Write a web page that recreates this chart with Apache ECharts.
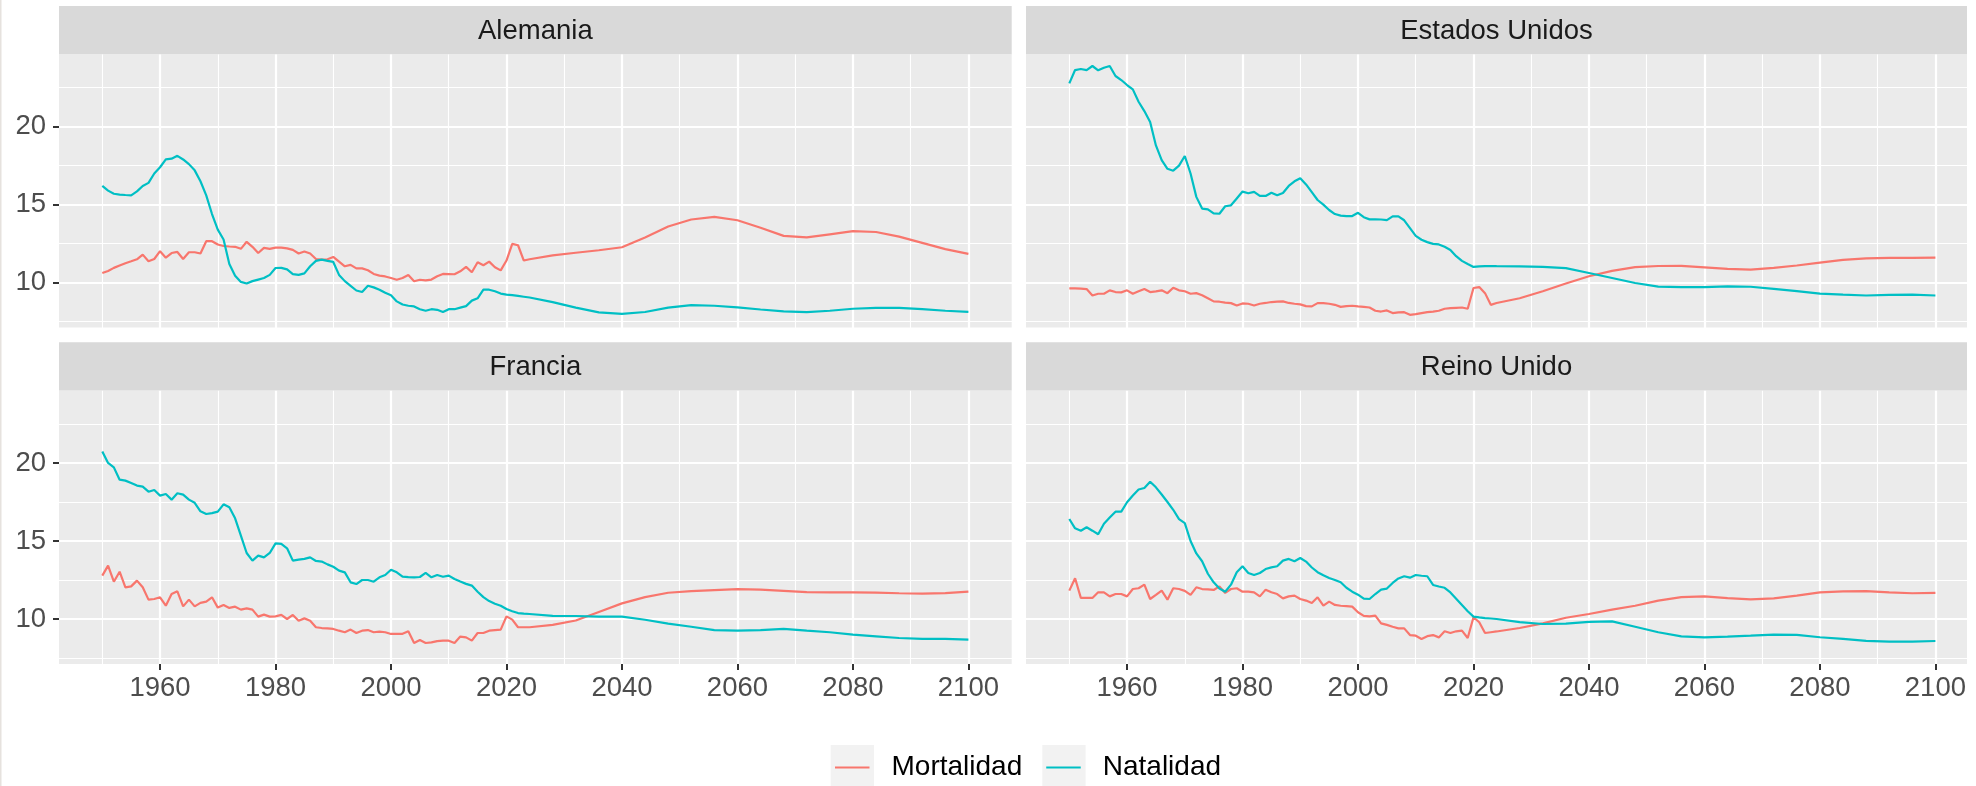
<!DOCTYPE html>
<html>
<head>
<meta charset="utf-8">
<title>Natalidad y mortalidad</title>
<script src="https://cdn.jsdelivr.net/npm/echarts@6/dist/echarts.min.js"></script>
<style>
  html, body { margin: 0; padding: 0; background: #ffffff; }
  #chart { width: 1976px; height: 786px; }
</style>
</head>
<body>
<div id="chart"></div>
<script>
// años: anual hasta 2024, luego cada 4 años (proyección)
const years = [
  1950, 1951, 1952, 1953, 1954, 1955, 1956, 1957, 1958, 1959,
  1960, 1961, 1962, 1963, 1964, 1965, 1966, 1967, 1968, 1969,
  1970, 1971, 1972, 1973, 1974, 1975, 1976, 1977, 1978, 1979,
  1980, 1981, 1982, 1983, 1984, 1985, 1986, 1987, 1988, 1989,
  1990, 1991, 1992, 1993, 1994, 1995, 1996, 1997, 1998, 1999,
  2000, 2001, 2002, 2003, 2004, 2005, 2006, 2007, 2008, 2009,
  2010, 2011, 2012, 2013, 2014, 2015, 2016, 2017, 2018, 2019,
  2020, 2021, 2022, 2023, 2024,
  2028, 2032, 2036, 2040, 2044, 2048, 2052, 2056, 2060, 2064,
  2068, 2072, 2076, 2080, 2084, 2088, 2092, 2096, 2100
];

const paises = ['Alemania', 'Estados Unidos', 'Francia', 'Reino Unido'];
const xTicks = [1960, 1980, 2000, 2020, 2040, 2060, 2080, 2100];
const yTicks = [10, 15, 20];

const mortAlemania = [
  10.62, 10.75, 10.95, 11.1, 11.25, 11.37, 11.5, 11.8, 11.37, 11.52,
  12.02, 11.6, 11.9, 11.97, 11.52, 11.95, 11.95, 11.87, 12.66, 12.66,
  12.45, 12.35, 12.32, 12.3, 12.17, 12.62, 12.3, 11.9, 12.23, 12.17,
  12.25, 12.25, 12.2, 12.1, 11.87, 12.0, 11.87, 11.52, 11.48, 11.5,
  11.65, 11.35, 11.05, 11.14, 10.92, 10.92, 10.8, 10.56, 10.45, 10.4,
  10.3, 10.19, 10.3, 10.49, 10.09, 10.19, 10.15, 10.2, 10.41, 10.56,
  10.55, 10.54, 10.73, 11.01, 10.67, 11.31, 11.12, 11.35, 10.99, 10.79,
  11.42, 12.49, 12.4, 11.42, 11.5,
  11.75, 11.92, 12.08, 12.27, 12.9, 13.6, 14.05, 14.22, 14.0, 13.52,
  13.0, 12.9, 13.1, 13.3, 13.25, 12.95, 12.55, 12.15, 11.85
];
const natAlemania = [
  16.2, 15.9, 15.7, 15.65, 15.62, 15.6, 15.85, 16.2, 16.4, 17.0,
  17.4, 17.9, 17.95, 18.13, 17.9, 17.6, 17.2, 16.5, 15.6, 14.4,
  13.4, 12.77, 11.2, 10.45, 10.05, 9.95, 10.1, 10.2, 10.3, 10.5,
  10.94, 10.95, 10.85, 10.55, 10.5, 10.6, 11.05, 11.4, 11.48, 11.4,
  11.33, 10.5, 10.1, 9.8, 9.5, 9.4, 9.8, 9.7, 9.55, 9.35,
  9.2, 8.8, 8.6, 8.52, 8.48, 8.3, 8.2, 8.3, 8.26, 8.12,
  8.3, 8.3, 8.4, 8.5, 8.85, 9.0, 9.55, 9.55, 9.45, 9.3,
  9.23, 9.2, 9.15, 9.1, 9.05,
  8.75, 8.4, 8.1, 8.0, 8.12, 8.4, 8.56, 8.52, 8.42, 8.28,
  8.16, 8.11, 8.2, 8.33, 8.38, 8.38, 8.3, 8.2, 8.13
];
const mortEEUU = [
  9.64, 9.64, 9.62, 9.59, 9.18, 9.29, 9.29, 9.51, 9.4, 9.38,
  9.51, 9.29, 9.45, 9.59, 9.4, 9.44, 9.51, 9.33, 9.68, 9.51,
  9.45, 9.29, 9.33, 9.2, 9.0, 8.8, 8.78, 8.72, 8.69, 8.54,
  8.67, 8.65, 8.54, 8.65, 8.7, 8.76, 8.78, 8.8, 8.7, 8.65,
  8.61, 8.5, 8.48, 8.69, 8.69, 8.65, 8.58, 8.45, 8.5, 8.52,
  8.48, 8.45, 8.41, 8.2, 8.15, 8.22, 8.05, 8.1, 8.11, 7.94,
  7.98, 8.05, 8.11, 8.15, 8.2, 8.33, 8.37, 8.39, 8.41, 8.33,
  9.66, 9.72, 9.33, 8.58, 8.7,
  9.0, 9.45, 9.95, 10.41, 10.76, 11.0, 11.07, 11.08, 10.98, 10.88,
  10.84, 10.95, 11.1, 11.28, 11.46, 11.56, 11.59, 11.59, 11.61
];
const natEEUU = [
  22.78, 23.63, 23.7, 23.63, 23.89, 23.61, 23.78, 23.89, 23.25, 22.99,
  22.67, 22.39, 21.6, 21.0, 20.3, 18.8, 17.86, 17.3, 17.18, 17.5,
  18.12, 17.0, 15.5, 14.75, 14.7, 14.44, 14.42, 14.9, 14.96, 15.4,
  15.84, 15.73, 15.82, 15.56, 15.56, 15.77, 15.6, 15.75, 16.2, 16.5,
  16.7, 16.3, 15.8, 15.3, 15.0, 14.66, 14.4, 14.3, 14.27, 14.27,
  14.48, 14.2, 14.06, 14.06, 14.05, 14.01, 14.25, 14.25, 14.0, 13.5,
  13.0, 12.75, 12.6, 12.49, 12.45, 12.3, 12.1, 11.7, 11.4, 11.2,
  11.01, 11.05, 11.06, 11.07, 11.06,
  11.05, 11.01, 10.93, 10.62, 10.3, 9.98, 9.75, 9.72, 9.72, 9.76,
  9.74, 9.6, 9.46, 9.3, 9.23, 9.18, 9.22, 9.23, 9.18
];
const mortFrancia = [
  12.78, 13.42, 12.39, 13.03, 12.03, 12.09, 12.46, 12.03, 11.24, 11.28,
  11.39, 10.85, 11.6, 11.77, 10.81, 11.24, 10.81, 11.03, 11.11, 11.39,
  10.73, 10.9, 10.71, 10.79, 10.6, 10.68, 10.6, 10.15, 10.28, 10.15,
  10.17, 10.26, 10.0, 10.26, 9.89, 10.04, 9.89, 9.47, 9.42, 9.4,
  9.36, 9.25, 9.15, 9.32, 9.1, 9.25, 9.29, 9.15, 9.19, 9.15,
  9.04, 9.04, 9.05, 9.21, 8.46, 8.65, 8.46, 8.5, 8.58, 8.61,
  8.61, 8.46, 8.87, 8.82, 8.61, 9.1, 9.1, 9.25, 9.29, 9.32,
  10.17, 9.96, 9.47, 9.47, 9.47,
  9.62, 9.9, 10.45, 11.0, 11.4, 11.68, 11.78, 11.85, 11.92, 11.88,
  11.8, 11.72, 11.71, 11.71, 11.69, 11.65, 11.62, 11.66, 11.75
];
const natFrancia = [
  20.73, 20.0, 19.72, 18.93, 18.87, 18.72, 18.55, 18.48, 18.16, 18.27,
  17.91, 18.01, 17.65, 18.06, 17.97, 17.65, 17.45, 16.9, 16.73, 16.79,
  16.88, 17.35, 17.16, 16.45, 15.34, 14.23, 13.74, 14.06, 13.95, 14.23,
  14.85, 14.81, 14.53, 13.74, 13.8, 13.85, 13.95, 13.72, 13.68, 13.5,
  13.35, 13.1, 12.99, 12.35, 12.24, 12.5, 12.5, 12.39, 12.67, 12.82,
  13.16, 12.99, 12.71, 12.68, 12.67, 12.69, 12.95, 12.67, 12.82, 12.71,
  12.78, 12.56, 12.4, 12.25, 12.14, 11.75, 11.4, 11.15, 10.98, 10.85,
  10.64, 10.5, 10.38, 10.34, 10.32,
  10.2, 10.19, 10.15, 10.15, 9.95, 9.7, 9.5, 9.29, 9.25, 9.29,
  9.36, 9.25, 9.15, 9.0, 8.89, 8.78, 8.72, 8.72, 8.68
];
const mortReinoUnido = [
  11.82, 12.61, 11.35, 11.35, 11.35, 11.71, 11.71, 11.45, 11.6, 11.6,
  11.45, 11.92, 11.97, 12.2, 11.28, 11.54, 11.82, 11.24, 11.97, 11.92,
  11.8, 11.54, 12.03, 11.92, 11.9, 11.86, 12.09, 11.67, 11.92, 11.97,
  11.75, 11.75, 11.71, 11.45, 11.88, 11.71, 11.6, 11.32, 11.45, 11.5,
  11.28, 11.18, 11.03, 11.39, 10.85, 11.11, 10.9, 10.85, 10.82, 10.79,
  10.43, 10.2, 10.17, 10.21, 9.72, 9.62, 9.5, 9.4, 9.4, 8.97,
  8.93, 8.72, 8.9, 8.97, 8.82, 9.21, 9.1, 9.21, 9.25, 8.78,
  10.11, 9.79, 9.1, 9.15, 9.2,
  9.42, 9.72, 10.08, 10.32, 10.6, 10.85, 11.18, 11.4, 11.45, 11.34,
  11.26, 11.32, 11.5, 11.7, 11.77, 11.79, 11.7, 11.65, 11.67
];
const natReinoUnido = [
  16.41, 15.81, 15.66, 15.88, 15.66, 15.43, 16.1, 16.5, 16.88, 16.88,
  17.48, 17.91, 18.3, 18.4, 18.8, 18.44, 17.98, 17.5, 17.0, 16.4,
  16.15, 15.0, 14.2, 13.7, 12.9, 12.35, 11.95, 11.75, 12.2, 13.0,
  13.38, 12.95, 12.82, 12.95, 13.2, 13.31, 13.38, 13.74, 13.85, 13.7,
  13.91, 13.68, 13.3, 13.0, 12.8, 12.63, 12.5, 12.35, 12.0, 11.75,
  11.56, 11.3, 11.28, 11.6, 11.88, 11.95, 12.31, 12.6, 12.74, 12.65,
  12.82, 12.77, 12.74, 12.18, 12.08, 12.0, 11.7, 11.3, 10.9, 10.5,
  10.15, 10.1, 10.06, 10.03, 10.0,
  9.8, 9.68, 9.7, 9.82, 9.85, 9.5, 9.15, 8.89, 8.82, 8.87,
  8.93, 9.0, 8.98, 8.83, 8.72, 8.6, 8.55, 8.55, 8.59
];

const mortalidad = [mortAlemania, mortEEUU, mortFrancia, mortReinoUnido];
const natalidad = [natAlemania, natEEUU, natFrancia, natReinoUnido];

// layout (pixels) y escalas
const FONT = '"Liberation Sans", Arial, Helvetica, sans-serif';
const PX_YR = 5.774;
const PX_UNIT = 15.6;
const X_MIN = 1942.5;
const Y_MIN = 7.12;
const Y_MAX = 24.64;
const PANEL_H = (Y_MAX - Y_MIN) * PX_UNIT;
const STRIP_H = 48.4;
const panels = [
  { left: 59, top: 54.3, width: 952.7, showX: false, showY: true },
  { left: 1026, top: 54.3, width: 941, showX: false, showY: false },
  { left: 59, top: 390.6, width: 952.7, showX: true, showY: true },
  { left: 1026, top: 390.6, width: 941, showX: true, showY: false }
];

const grid = [];
const xAxis = [];
const yAxis = [];
const series = [];
const graphic = [];

function plainLabel(v) {
  return String(v);
}

// grids extendidos: lineas de cuadricula y datos
panels.forEach(function (p, i) {
  grid.push({
    left: p.left - (X_MIN - 1940) * PX_YR,
    top: p.top - (25 - Y_MAX) * PX_UNIT,
    width: 170 * PX_YR,
    height: 20 * PX_UNIT,
    outerBoundsMode: 'none',
    containLabel: false,
    show: false
  });
  [20, 10].forEach(function (iv) {
    xAxis.push({
      gridIndex: i, type: 'value', min: 1940, max: 2110, interval: iv,
      axisLine: { show: false }, axisTick: { show: false }, axisLabel: { show: false },
      splitLine: {
        show: true, showMinLine: false, showMaxLine: false,
        lineStyle: { color: '#ffffff', width: iv === 20 ? 2.2 : 1.1 }
      }
    });
  });
  [5, 2.5].forEach(function (iv) {
    yAxis.push({
      gridIndex: i, type: 'value', min: 5, max: 25, interval: iv,
      axisLine: { show: false }, axisTick: { show: false }, axisLabel: { show: false },
      splitLine: {
        show: true, showMinLine: false, showMaxLine: false,
        lineStyle: { color: '#ffffff', width: iv === 5 ? 2.2 : 1.1 }
      }
    });
  });
});

// grids del panel: fondo gris y etiquetas de los ejes
panels.forEach(function (p, i) {
  grid.push({
    left: p.left, top: p.top, width: p.width, height: PANEL_H,
    outerBoundsMode: 'none', containLabel: false,
    show: true, backgroundColor: '#EBEBEB', borderWidth: 0, z: -1
  });
  xAxis.push({
    gridIndex: 4 + i, type: 'value', min: X_MIN, max: X_MIN + p.width / PX_YR,
    show: p.showX, z: 5,
    axisLine: { show: false }, splitLine: { show: false },
    axisTick: { show: true, customValues: xTicks, length: 6, lineStyle: { color: '#333333', width: 2 } },
    axisLabel: {
      show: true, customValues: xTicks, margin: 11, fontSize: 27.5,
      color: '#4D4D4D', fontFamily: FONT, formatter: plainLabel
    }
  });
  yAxis.push({
    gridIndex: 4 + i, type: 'value', min: Y_MIN, max: Y_MAX,
    show: p.showY, z: 5,
    axisLine: { show: false }, splitLine: { show: false },
    axisTick: { show: true, customValues: yTicks, length: 6, lineStyle: { color: '#333333', width: 2 } },
    axisLabel: {
      show: true, customValues: yTicks, margin: 13, fontSize: 27.5,
      color: '#4D4D4D', fontFamily: FONT, formatter: plainLabel
    }
  });

  // franja con el nombre del pais
  const stripTop = p.top - STRIP_H;
  graphic.push({
    type: 'rect', z: 100,
    shape: { x: p.left, y: stripTop, width: p.width, height: STRIP_H },
    style: { fill: '#D9D9D9' }
  });
  graphic.push({
    type: 'text', z: 101,
    x: p.left + p.width / 2, y: stripTop + STRIP_H / 2 + 1,
    style: {
      text: paises[i], fill: '#1A1A1A', fontSize: 27.5, fontFamily: FONT,
      align: 'center', verticalAlign: 'middle'
    }
  });

  series.push({
    name: 'Mortalidad', type: 'line', xAxisIndex: 2 * i, yAxisIndex: 2 * i,
    data: years.map(function (y, k) { return [y, mortalidad[i][k]]; }),
    showSymbol: false, color: '#F8766D', lineStyle: { width: 2.2 }, z: 3
  });
  series.push({
    name: 'Natalidad', type: 'line', xAxisIndex: 2 * i, yAxisIndex: 2 * i,
    data: years.map(function (y, k) { return [y, natalidad[i][k]]; }),
    showSymbol: false, color: '#00BFC4', lineStyle: { width: 2.2 }, z: 3
  });
});

// cajas grises de la leyenda y borde izquierdo
graphic.push({ type: 'rect', z: 1, shape: { x: 830.7, y: 745, width: 43.3, height: 43 }, style: { fill: '#F2F2F2' } });
graphic.push({ type: 'rect', z: 1, shape: { x: 1042.3, y: 745, width: 43.3, height: 43 }, style: { fill: '#F2F2F2' } });
graphic.push({ type: 'rect', z: 1, shape: { x: 0, y: 0, width: 1.5, height: 786 }, style: { fill: '#E6E2DE' } });

const option = {
  animation: false,
  backgroundColor: '#ffffff',
  textStyle: { fontFamily: FONT },
  grid: grid,
  xAxis: xAxis,
  yAxis: yAxis,
  series: series,
  graphic: graphic,
  legend: {
    data: ['Mortalidad', 'Natalidad'],
    left: 835, top: 753.5, padding: 0,
    icon: 'rect', itemWidth: 34.5, itemHeight: 2.2, itemGap: 24,
    textStyle: { fontSize: 28, color: '#000000', fontFamily: FONT, padding: [0, 0, 0, 17] }
  }
};

const chart = echarts.init(document.getElementById('chart'));
chart.setOption(option);
</script>
</body>
</html>
